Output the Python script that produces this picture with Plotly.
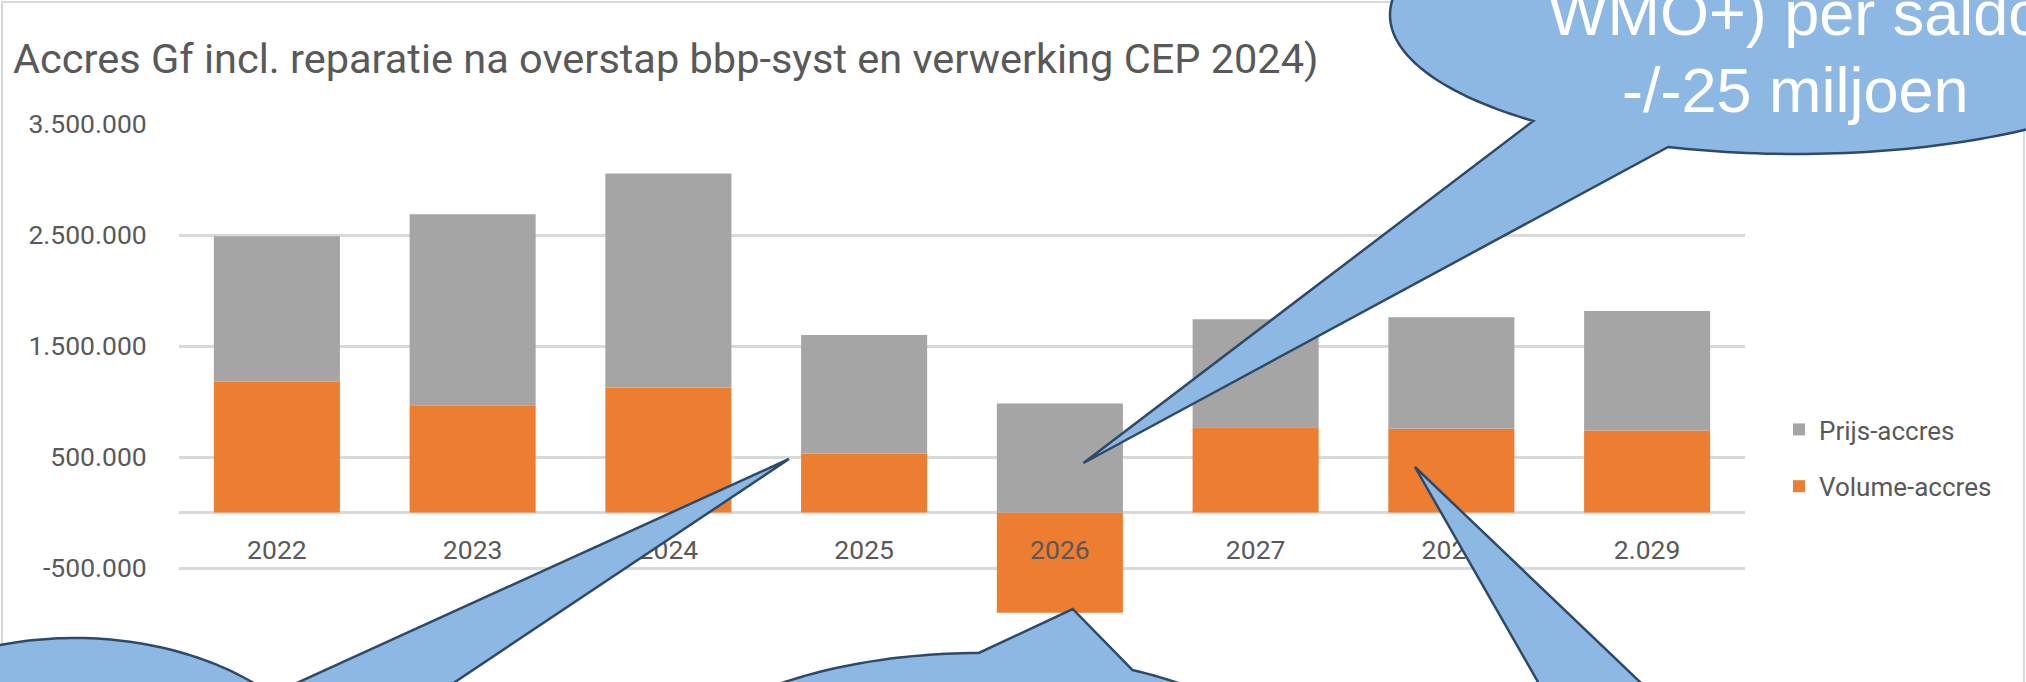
import numpy as np
import plotly.graph_objects as go

# ---------------- data ----------------
categories = ["2022", "2023", "2024", "2025", "2026", "2027", "2028", "2.029"]
prijs_accres = [1312000, 1720000, 1928000, 1069000, 982000, 974000, 1005000, 1077000]
volume_accres = [1177000, 967000, 1126000, 531000, -904000, 768000, 755000, 738000]
y_tick_values = [-1500000, -500000, 500000, 1500000, 2500000, 3500000]
y_tick_labels = ["-1.500.000", "-500.000", "500.000", "1.500.000", "2.500.000", "3.500.000"]
y_range = [-1500000, 3500000]
series_names = ["Prijs-accres", "Volume-accres"]
title_text = "Accres Gf incl. reparatie na overstap bbp-syst en verwerking CEP 2024)"
callout_lines = ["WMO+) per saldo", "-/-25 miljoen"]

# ---------------- layout geometry (pixels) ----------------
W, H = 2026, 682
M_L, M_R, M_T, M_B = 179, 281, 124, 3
PW = W - M_L - M_R
PH = H - M_T - M_B

TXT = "#595959"
GRID = "#D9D9D9"
GRAY = "#A5A5A5"
ORANGE = "#ED7D31"
BUB_FILL = "#8EB8E4"
BUB_LINE = "#2F4A66"
FONT = "Roboto"


def to_paper(px, py):
    return (px - M_L) / PW, (H - M_B - py) / PH


def bubble_path(cx, cy, a, b, tip, p1, p2, n=240):
    def hit(p):
        tx, ty = tip
        dx, dy = p[0] - tx, p[1] - ty
        A = (dx / a) ** 2 + (dy / b) ** 2
        B = 2 * ((tx - cx) * dx / a ** 2 + (ty - cy) * dy / b ** 2)
        C = ((tx - cx) / a) ** 2 + ((ty - cy) / b) ** 2 - 1
        disc = max(B * B - 4 * A * C, 0)
        s = (-B - np.sqrt(disc)) / (2 * A)
        return tx + dx * s, ty + dy * s

    h1, h2 = hit(p1), hit(p2)
    t1 = np.arctan2((h1[1] - cy) / b, (h1[0] - cx) / a)
    t2 = np.arctan2((h2[1] - cy) / b, (h2[0] - cx) / a)
    d = (t1 - t2) % (2 * np.pi)
    if d > np.pi:
        ts = t2 + np.linspace(0, d, n)
    else:
        ts = t2 - np.linspace(0, 2 * np.pi - d, n)
    pts = [(cx + a * np.cos(t), cy + b * np.sin(t)) for t in ts]
    pts.append(tip)
    parts = []
    for i, (x, y) in enumerate(pts):
        X, Y = to_paper(x, y)
        parts.append(("M" if i == 0 else "L") + f"{X:.5f},{Y:.5f}")
    return " ".join(parts) + " Z"


fig = go.Figure()
fig.add_trace(go.Bar(x=categories, y=volume_accres, name=series_names[1],
                     marker=dict(color=ORANGE, line=dict(width=0)),
                     legendgroup="v", legendrank=2))
fig.add_trace(go.Bar(x=categories, y=prijs_accres, name=series_names[0],
                     marker=dict(color=GRAY, line=dict(width=0)),
                     legendgroup="p", legendrank=1))

zero_pos = (0 - y_range[0]) / (y_range[1] - y_range[0])

fig.update_layout(
    width=W, height=H,
    margin=dict(l=M_L, r=M_R, t=M_T, b=M_B, autoexpand=False),
    paper_bgcolor="white", plot_bgcolor="white",
    barmode="relative", bargap=0.356,
    font=dict(family=FONT, color=TXT, size=26),
    title=dict(text=title_text, x=13 / W, xref="container", xanchor="left",
               y=1 - 58 / H, yref="container", yanchor="middle",
               font=dict(family=FONT, size=41.5, color=TXT)),
    xaxis=dict(type="category", anchor="free", position=zero_pos,
               showgrid=False, showline=False, zeroline=False,
               ticks="outside", ticklen=14, tickcolor="rgba(0,0,0,0)",
               tickfont=dict(family=FONT, size=26.5, color=TXT)),
    yaxis=dict(range=y_range, tickvals=y_tick_values, ticktext=y_tick_labels,
               showgrid=True, gridcolor=GRID, gridwidth=3,
               zeroline=True, zerolinecolor=GRID, zerolinewidth=3,
               showline=False, ticks="outside", ticklen=26,
               tickcolor="rgba(0,0,0,0)",
               tickfont=dict(family=FONT, size=26.5, color=TXT)),
    legend=dict(x=(1779 - M_L) / PW, xanchor="left",
                y=to_paper(0, 406)[1], yanchor="top",
                traceorder="grouped", tracegroupgap=20,
                font=dict(family=FONT, size=26, color=TXT),
                bgcolor="rgba(0,0,0,0)"),
    showlegend=True,
)

shapes = []
# chart-area border
bx0, by0 = to_paper(2, 2)
bx1, by1 = to_paper(2024, 700)
shapes.append(dict(type="rect", xref="paper", yref="paper", x0=bx0, y0=by0, x1=bx1, y1=by1,
                   line=dict(color=GRID, width=2), fillcolor="rgba(0,0,0,0)", layer="below"))

bubbles = [
    # top-right callout
    dict(cx=1796, cy=15, a=406, b=139, tip=(1083.5, 463), p1=(1534.5, 120), p2=(1668, 147)),
    # bottom-left callout
    dict(cx=75, cy=818, a=270, b=180, tip=(789, 459), p1=(299, 682), p2=(455, 682)),
    # bottom-centre callout
    dict(cx=980, cy=813, a=340, b=160, tip=(1072.7, 609), p1=(976.7, 654), p2=(1130.7, 668.3)),
    # bottom-right callout
    dict(cx=1640, cy=830, a=300, b=130, tip=(1415, 467), p1=(1538, 682), p2=(1640, 682)),
]
for bb in bubbles:
    shapes.append(dict(type="path", xref="paper", yref="paper",
                       path=bubble_path(bb["cx"], bb["cy"], bb["a"], bb["b"], bb["tip"], bb["p1"], bb["p2"]),
                       fillcolor=BUB_FILL, line=dict(color=BUB_LINE, width=2.5), layer="above"))
fig.update_layout(shapes=shapes)

for txt, cy in zip(callout_lines, [13, 90]):
    ax, ay = to_paper(1795, cy)
    fig.add_annotation(text=txt, x=ax, y=ay, xref="paper", yref="paper",
                       xanchor="center", yanchor="middle", showarrow=False,
                       font=dict(family="Liberation Sans, Arial", size=63, color="white"))

fig.write_html("out.html",
               config={"displayModeBar": False},
               post_script="document.body.style.margin='0';document.body.style.overflow='hidden';")
